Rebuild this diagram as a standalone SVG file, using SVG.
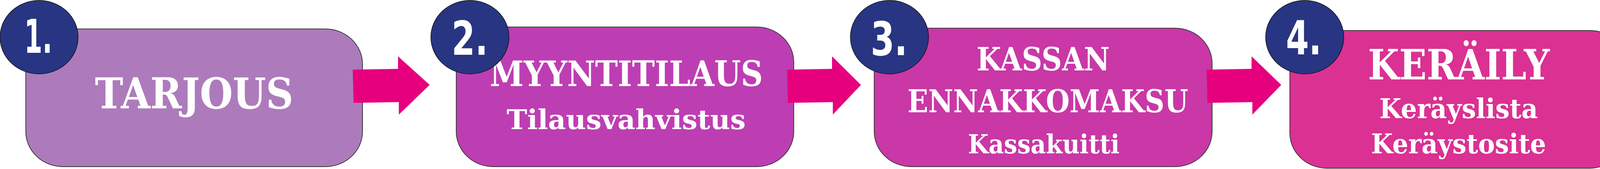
<svg xmlns="http://www.w3.org/2000/svg" width="5230" height="432" viewBox="0 0 5230 432">
<style>
.box{stroke:#3a3a3a;stroke-width:2}
.num{fill:#283583;stroke:#111;stroke-width:1.5}
.nt{font-family:"DejaVu Sans Condensed","DejaVu Sans","Liberation Sans",sans-serif;font-weight:700;font-size:119px;fill:#fff}
.t{font-family:"DejaVu Serif Condensed","DejaVu Serif","Liberation Serif",serif;font-weight:700;fill:#fff}
.arr{fill:#E6007E}
</style>
<rect width="5230" height="432" fill="#fff"/>
<g id="node1">
<rect class="box" x="66" y="74" width="862" height="352" rx="95" ry="90" fill="#AD7BBB"/>
<text class="t" x="243" y="277" font-size="108" textLength="508" lengthAdjust="spacingAndGlyphs">TARJOUS</text>
</g>
<g id="node2">
<rect class="box" x="1168" y="69" width="864" height="357" rx="95" ry="90" fill="#BD3EB3"/>
<text class="t" x="1254" y="220" font-size="90" textLength="699" lengthAdjust="spacingAndGlyphs">MYYNTITILAUS</text>
<text class="t" x="1297" y="330" font-size="69" textLength="612" lengthAdjust="spacingAndGlyphs">Tilausvahvistus</text>
</g>
<g id="node3">
<rect class="box" x="2238" y="72" width="865" height="354" rx="95" ry="90" fill="#C938A6"/>
<text class="t" x="2500" y="180" font-size="82" textLength="341" lengthAdjust="spacingAndGlyphs">KASSAN</text>
<text class="t" x="2323" y="287" font-size="81" textLength="719" lengthAdjust="spacingAndGlyphs">ENNAKKOMAKSU</text>
<text class="t" x="2478" y="392" font-size="67" textLength="388" lengthAdjust="spacingAndGlyphs">Kassakuitti</text>
</g>
<g id="node4">
<rect class="box" x="3302" y="78" width="863" height="352" rx="95" ry="90" fill="#DA3192"/>
<text class="t" x="3502" y="203" font-size="107" textLength="465" lengthAdjust="spacingAndGlyphs">KERÄILY</text>
<text class="t" x="3531" y="302" font-size="70" textLength="406" lengthAdjust="spacingAndGlyphs">Keräyslista</text>
<text class="t" x="3510" y="392" font-size="70" textLength="448" lengthAdjust="spacingAndGlyphs">Keräystosite</text>
</g>
<g id="node5">
<rect class="box" x="4371" y="72" width="857" height="354" rx="95" ry="90" fill="#DF2B85"/>
<text class="t" x="4581" y="190" font-size="92" textLength="451" lengthAdjust="spacingAndGlyphs">TOIMITUS</text>
<text class="t" x="4589" y="295" font-size="69" textLength="438" lengthAdjust="spacingAndGlyphs">Lähetyslista</text>
<text class="t" x="4631" y="384" font-size="67" textLength="355" lengthAdjust="spacingAndGlyphs">Rahtikirja</text>
</g>
<g id="connectors">
<polygon class="arr" points="903,178 1019,176 1019,144 1100,217 1021,293 1021,261 905,263"/>
<polygon class="arr" points="2015,178 2130,176 2130,144 2204,217 2132,293 2132,261 2017,263"/>
<polygon class="arr" points="3089,178 3204,176 3204,144 3280,217 3206,293 3206,261 3091,263"/>
<polygon class="arr" points="4126,178 4242,176 4242,144 4325,217 4244,293 4244,261 4128,263"/>
</g>
<g id="badge1">
<ellipse class="num" cx="100" cy="95" rx="100" ry="94"/>
<text class="nt" x="62" y="135" textLength="72" lengthAdjust="spacingAndGlyphs">1.</text>
</g>
<g id="badge2">
<ellipse class="num" cx="1203" cy="95" rx="100" ry="94"/>
<text class="nt" x="1156" y="140" textLength="93" lengthAdjust="spacingAndGlyphs">2.</text>
</g>
<g id="badge3">
<ellipse class="num" cx="2277" cy="95" rx="100" ry="94"/>
<text class="nt" x="2229" y="141" textLength="94" lengthAdjust="spacingAndGlyphs">3.</text>
</g>
<g id="badge4">
<ellipse class="num" cx="3340" cy="95" rx="100" ry="94"/>
<text class="nt" x="3292" y="139" textLength="91" lengthAdjust="spacingAndGlyphs">4.</text>
</g>
<g id="badge5">
<ellipse class="num" cx="4408" cy="95" rx="99" ry="94"/>
<text class="nt" x="4366" y="139" textLength="87" lengthAdjust="spacingAndGlyphs">5.</text>
</g>
</svg>
